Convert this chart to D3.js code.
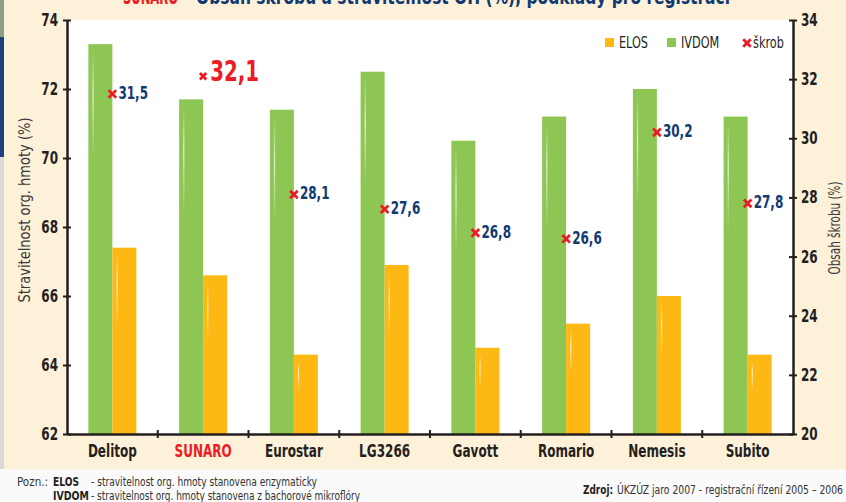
<!DOCTYPE html>
<html>
<head>
<meta charset="utf-8">
<script src="https://cdn.jsdelivr.net/npm/d3@7"></script>
<style>
  body { margin: 0; background: #fafafa; }
  svg { display: block; }
  text { font-family: 'Liberation Sans Narrow', 'DejaVu Sans Condensed', sans-serif; }
</style>
</head>
<body>
<script>
// data
const categories = ['Delitop', 'SUNARO', 'Eurostar', 'LG3266', 'Gavott', 'Romario', 'Nemesis', 'Subito'];
const elos  = [67.4, 66.6, 64.3, 66.9, 64.5, 65.2, 66.0, 64.3];
const ivdom = [73.3, 71.7, 71.4, 72.5, 70.5, 71.2, 72.0, 71.2];
const skrob = [31.5, 32.1, 28.1, 27.6, 26.8, 26.6, 30.2, 27.8];
const leftTicks  = [62, 64, 66, 68, 70, 72, 74];
const rightTicks = [20, 22, 24, 26, 28, 30, 32, 34];
const highlight = 'SUNARO';
const legendItems = ['ELOS', 'IVDOM', 'škrob'];

const W = 846, H = 502;
const green = '#8dc652', orange = '#fdb813', red = '#ec1c24', navy = '#113a72', ink = '#231f20';
const cream = '#fef1d9';
const fontFam = "'Liberation Sans Narrow', 'DejaVu Sans Condensed', sans-serif";

const svg = d3.select('body').append('svg').attr('width', W).attr('height', H);
const defs = svg.append('defs');
const gl = defs.append('linearGradient').attr('id', 'gloss').attr('x1', 0).attr('x2', 0).attr('y1', 0).attr('y2', 1);
gl.append('stop').attr('offset', '0%').attr('stop-color', '#fff').attr('stop-opacity', 0);
gl.append('stop').attr('offset', '40%').attr('stop-color', '#fff').attr('stop-opacity', 0.75);
gl.append('stop').attr('offset', '100%').attr('stop-color', '#fff').attr('stop-opacity', 0);

// squeeze text horizontally (the original face is a narrow Futura)
function condense(sel, f) {
  sel.each(function() {
    const w = this.getComputedTextLength();
    this.setAttribute('textLength', w * f);
    this.setAttribute('lengthAdjust', 'spacingAndGlyphs');
  });
}
// measure a probe string to find the squeeze factor for a style
function factorFor(str, size, weight, target) {
  const t = svg.append('text').attr('font-size', size).attr('font-weight', weight).text(str);
  const w = t.node().getComputedTextLength();
  t.remove();
  return target / w;
}
function fixedText(g, x0, y0, str, len, opts) {
  return g.append('text').attr('x', x0).attr('y', y0)
    .attr('font-size', opts.size).attr('font-weight', opts.bold ? 'bold' : 'normal')
    .attr('fill', opts.fill)
    .attr('textLength', len).attr('lengthAdjust', 'spacingAndGlyphs').text(str);
}

// background panels
svg.append('rect').attr('width', W).attr('height', 469).attr('fill', cream);
svg.append('rect').attr('x', 0).attr('y', 0).attr('width', 4).attr('height', 37).attr('fill', '#8f9d86');
svg.append('rect').attr('x', 0).attr('y', 37).attr('width', 4).attr('height', 120).attr('fill', '#1d3f7c');
svg.append('rect').attr('x', 0).attr('y', 157).attr('width', 4).attr('height', 312).attr('fill', '#d9d9d9');

const fBold = factorFor('Delitop', 17, 'bold', 49);
const fReg = factorFor('ELOS', 15, 'normal', 29);

const pLeft = 67, pRight = 793, pTop = 20, pBottom = 434;
const x = d3.scaleBand().domain(categories).range([pLeft, pRight]);
const yL = d3.scaleLinear().domain([62, 74]).range([pBottom, pTop]);
const yR = d3.scaleLinear().domain([20, 34]).range([pBottom, pTop]);
const bw = 24;
const fmt = v => d3.format('.1f')(v).replace('.', ',');

svg.append('rect').attr('x', pLeft).attr('y', pTop).attr('width', pRight - pLeft).attr('height', pBottom - pTop).attr('fill', '#fff');

// title (cut off at top of picture, as in the source)
const tg = svg.append('g');
fixedText(tg, 123, 4, 'SUNARO', 55, { size: 21, bold: true, fill: red });
fixedText(tg, 183, 4, '– Obsah škrobu a stravitelnost OH (%), podklady pro registraci', 547, { size: 21, bold: true, fill: navy });

// bars
const rows = categories.map((c, i) => ({ c, elos: elos[i], ivdom: ivdom[i], skrob: skrob[i] }));
const bars = [];
rows.forEach(d => {
  bars.push({ c: d.c, v: d.ivdom, fill: green, x0: x(d.c) + x.bandwidth() / 2 - bw });
  bars.push({ c: d.c, v: d.elos, fill: orange, x0: x(d.c) + x.bandwidth() / 2 });
});
svg.append('g').selectAll('rect').data(bars).join('rect')
  .attr('x', d => d.x0).attr('y', d => yL(d.v))
  .attr('width', bw).attr('height', d => pBottom - yL(d.v))
  .attr('fill', d => d.fill);
svg.append('g').selectAll('rect').data(bars).join('rect')
  .attr('x', d => d.x0 + 4).attr('y', d => yL(d.v) + 6)
  .attr('width', 1.3).attr('height', d => Math.min(110, (pBottom - yL(d.v)) * 0.4))
  .attr('fill', 'url(#gloss)');

// axes
function styleAxis(g, inner) {
  g.select('.domain').attr('stroke', ink).attr('stroke-width', 2.5);
  g.selectAll('.tick line').attr('stroke', ink).attr('stroke-width', 2).attr('x1', inner);
  g.selectAll('.tick text').attr('fill', ink).attr('font-size', 17).attr('font-weight', 'bold')
    .attr('font-family', fontFam).call(condense, fBold);
}
svg.append('g').attr('transform', `translate(${pLeft},0)`)
  .call(d3.axisLeft(yL).tickValues(leftTicks).tickSizeInner(4).tickSizeOuter(0).tickPadding(5))
  .call(g => styleAxis(g, 4));
svg.append('g').attr('transform', `translate(${pRight},0)`)
  .call(d3.axisRight(yR).tickValues(rightTicks).tickSizeInner(4).tickSizeOuter(0).tickPadding(4))
  .call(g => styleAxis(g, -4));
const xa = svg.append('g').attr('transform', `translate(0,${pBottom})`)
  .call(d3.axisBottom(x).tickSize(0).tickPadding(11));
xa.select('.domain').attr('stroke', ink).attr('stroke-width', 2.5);
xa.selectAll('.tick text').attr('font-size', 17).attr('font-weight', 'bold')
  .attr('font-family', fontFam)
  .attr('fill', d => d === highlight ? red : ink)
  .call(condense, fBold);
xa.selectAll('.sep').data(categories.slice(1)).join('line').attr('class', 'sep')
  .attr('x1', d => x(d)).attr('x2', d => x(d)).attr('y1', -4).attr('y2', 4)
  .attr('stroke', ink).attr('stroke-width', 2);

// axis titles
svg.append('text').attr('transform', 'translate(30,210) rotate(-90)')
  .attr('text-anchor', 'middle').attr('font-size', 15).attr('fill', '#3a3a3a')
  .attr('textLength', 185).attr('lengthAdjust', 'spacingAndGlyphs')
  .text('Stravitelnost org. hmoty (%)');
svg.append('text').attr('transform', 'translate(840,228) rotate(-90)')
  .attr('text-anchor', 'middle').attr('font-size', 15).attr('fill', '#3a3a3a')
  .attr('textLength', 93).attr('lengthAdjust', 'spacingAndGlyphs')
  .text('Obsah škrobu (%)');

// starch markers + labels
function cross(g, cx, cy, r, sw) {
  g.append('path').attr('d', `M${cx - r},${cy - r}L${cx + r},${cy + r}M${cx - r},${cy + r}L${cx + r},${cy - r}`)
    .attr('stroke', red).attr('stroke-width', sw).attr('fill', 'none');
}
const mk = svg.append('g');
rows.forEach(d => {
  const cx = x(d.c) + x.bandwidth() / 2, cy = yR(d.skrob);
  const big = d.c === highlight;
  cross(mk, cx, cy, big ? 3.2 : 3.8, 2.8);
  mk.append('text').attr('x', cx + (big ? 7 : 6)).attr('y', cy + 5)
    .attr('font-size', big ? 28 : 17).attr('font-weight', 'bold')
    .attr('fill', big ? red : navy).text(fmt(d.skrob))
    .call(condense, fBold);
});

// legend
const legColors = [orange, green, null];
const legX = [605, 667, 743];
const leg = svg.append('g');
legendItems.forEach((name, i) => {
  if (legColors[i]) {
    leg.append('rect').attr('x', legX[i]).attr('y', 38).attr('width', 9).attr('height', 9).attr('fill', legColors[i]);
  } else {
    cross(leg, legX[i] + 4, 43, 3.8, 2.8);
  }
  leg.append('text').attr('x', legX[i] + (legColors[i] ? 14 : 10)).attr('y', 48)
    .attr('font-size', 15).attr('fill', ink).text(name)
    .call(condense, fReg);
});

// notes
const note = svg.append('g');
const nReg = { size: 12, bold: false, fill: '#333' }, nBold = { size: 12, bold: true, fill: ink };
fixedText(note, 17, 486, 'Pozn.:', 31, nReg);
fixedText(note, 53, 486, 'ELOS', 26, nBold);
fixedText(note, 91, 486, '- stravitelnost org. hmoty stanovena enzymaticky', 226, nReg);
fixedText(note, 53, 500, 'IVDOM', 36, nBold);
fixedText(note, 91, 500, '- stravitelnost org. hmoty stanovena z bachorové mikroflóry', 269, nReg);
fixedText(note, 583, 494, 'Zdroj:', 30, { size: 13, bold: true, fill: ink });
fixedText(note, 617, 494, 'ÚKZÚZ jaro 2007 - registrační řízení 2005 – 2006', 226, { size: 13, bold: false, fill: '#333' });
</script>
</body>
</html>
